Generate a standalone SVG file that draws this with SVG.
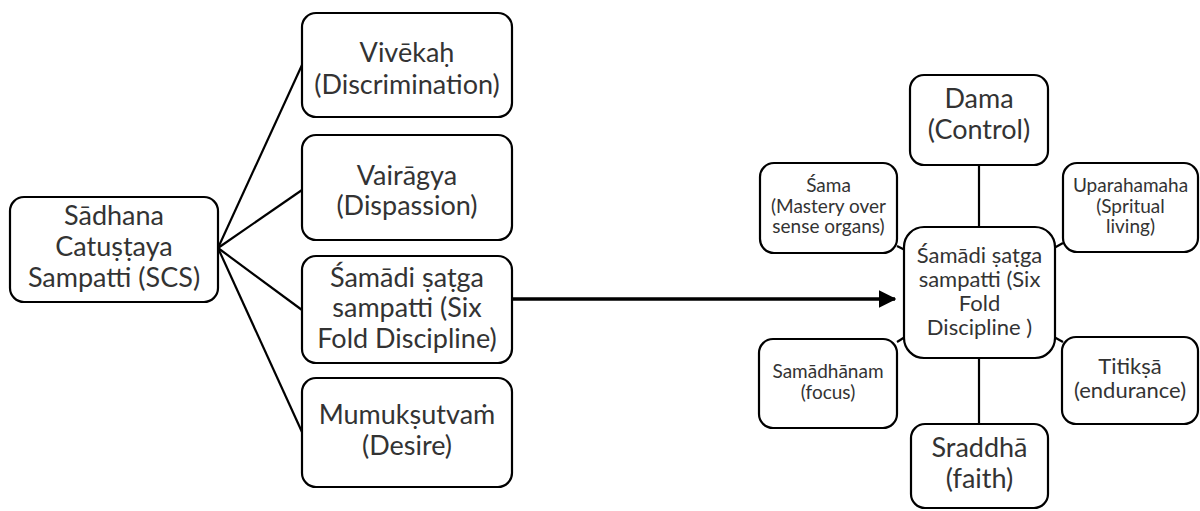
<svg xmlns="http://www.w3.org/2000/svg" width="1200" height="511" viewBox="0 0 1200 511">
<defs>
<style>
.box{fill:#fff;stroke:#000;stroke-width:2.2}
.t{font-family:Lato,"Open Sans",sans-serif;fill:#333;text-anchor:middle}
.L{font-size:27px}
.M{font-size:22px}
.S{font-size:19px}
.c{stroke:#000;stroke-width:2.2;fill:none}
</style>
<marker id="ah" markerWidth="5" markerHeight="5" refX="4.6" refY="2.5" orient="auto" markerUnits="strokeWidth">
<path d="M0,0 L5,2.5 L0,5 Z" fill="#000"/>
</marker>
</defs>
<rect width="1200" height="511" fill="#fff"/>
<g id="connectors">
<line class="c" x1="218" y1="248" x2="302" y2="65"/>
<line class="c" x1="218" y1="248" x2="302" y2="190"/>
<line class="c" x1="218" y1="248" x2="302" y2="310"/>
<line class="c" x1="218" y1="248" x2="302" y2="432"/>
<line x1="512" y1="299" x2="895" y2="299" stroke="#000" stroke-width="3.5" marker-end="url(#ah)"/>
<line class="c" x1="979" y1="165" x2="979" y2="227"/>
<line class="c" x1="979" y1="358" x2="979" y2="424"/>
<line class="c" x1="897" y1="246" x2="905" y2="250"/>
<line class="c" x1="1054" y1="248" x2="1063" y2="243"/>
<line class="c" x1="897" y1="342" x2="905" y2="337"/>
<line class="c" x1="1054" y1="337" x2="1063" y2="342"/>
</g>
<g id="scs">
<rect class="box" x="10" y="197" width="208" height="105" rx="14"/>
<text class="t L" x="114" y="225">Sādhana</text>
<text class="t L" x="114" y="256">Catuṣṭaya</text>
<text class="t L" x="114" y="287">Sampatti (SCS)</text>
</g>
<g id="vivekah">
<rect class="box" x="302" y="13" width="210" height="104" rx="14"/>
<text class="t L" x="407" y="62">Vivēkaḥ</text>
<text class="t L" x="407" y="94">(Discrimination)</text>
</g>
<g id="vairagya">
<rect class="box" x="302" y="135" width="210" height="105" rx="14"/>
<text class="t L" x="407" y="185">Vairāgya</text>
<text class="t L" x="407" y="215">(Dispassion)</text>
</g>
<g id="samadi">
<rect class="box" x="302" y="256" width="210" height="107" rx="14"/>
<text class="t L" x="407" y="287">Śamādi ṣaṭga</text>
<text class="t L" x="407" y="317">sampatti (Six</text>
<text class="t L" x="407" y="348">Fold Discipline)</text>
</g>
<g id="mumuksutvam">
<rect class="box" x="302" y="378" width="210" height="109" rx="14"/>
<text class="t L" x="407" y="424">Mumukṣutvaṁ</text>
<text class="t L" x="407" y="455">(Desire)</text>
</g>
<g id="center">
<rect class="box" x="904" y="227" width="151" height="131" rx="20"/>
<text class="t M" x="979.5" y="263">Śamādi ṣaṭga</text>
<text class="t M" x="979.5" y="287">sampatti (Six</text>
<text class="t M" x="979.5" y="311">Fold</text>
<text class="t M" x="979.5" y="335">Discipline )</text>
</g>
<g id="dama">
<rect class="box" x="910" y="75" width="138" height="90" rx="14"/>
<text class="t L" x="979" y="108">Dama</text>
<text class="t L" x="979" y="139">(Control)</text>
</g>
<g id="sama">
<rect class="box" x="760" y="163" width="137" height="90" rx="14"/>
<text class="t S" x="828.5" y="192">Śama</text>
<text class="t S" x="828.5" y="213">(Mastery over</text>
<text class="t S" x="828.5" y="233">sense organs)</text>
</g>
<g id="uparahamaha">
<rect class="box" x="1063" y="163" width="135" height="89" rx="14"/>
<text class="t S" x="1130.5" y="192">Uparahamaha</text>
<text class="t S" x="1130.5" y="213">(Spritual</text>
<text class="t S" x="1130.5" y="233">living)</text>
</g>
<g id="samadhanam">
<rect class="box" x="759" y="339" width="138" height="89" rx="14"/>
<text class="t S" x="828" y="378">Samādhānam</text>
<text class="t S" x="828" y="399">(focus)</text>
</g>
<g id="titiksa">
<rect class="box" x="1062" y="337" width="136" height="87" rx="14"/>
<text class="t M" x="1130" y="374">Titikṣā</text>
<text class="t M" x="1130" y="398">(endurance)</text>
</g>
<g id="sraddha">
<rect class="box" x="911" y="424" width="137" height="84" rx="14"/>
<text class="t L" x="979.5" y="457">Sraddhā</text>
<text class="t L" x="979.5" y="488">(faith)</text>
</g>
</svg>
